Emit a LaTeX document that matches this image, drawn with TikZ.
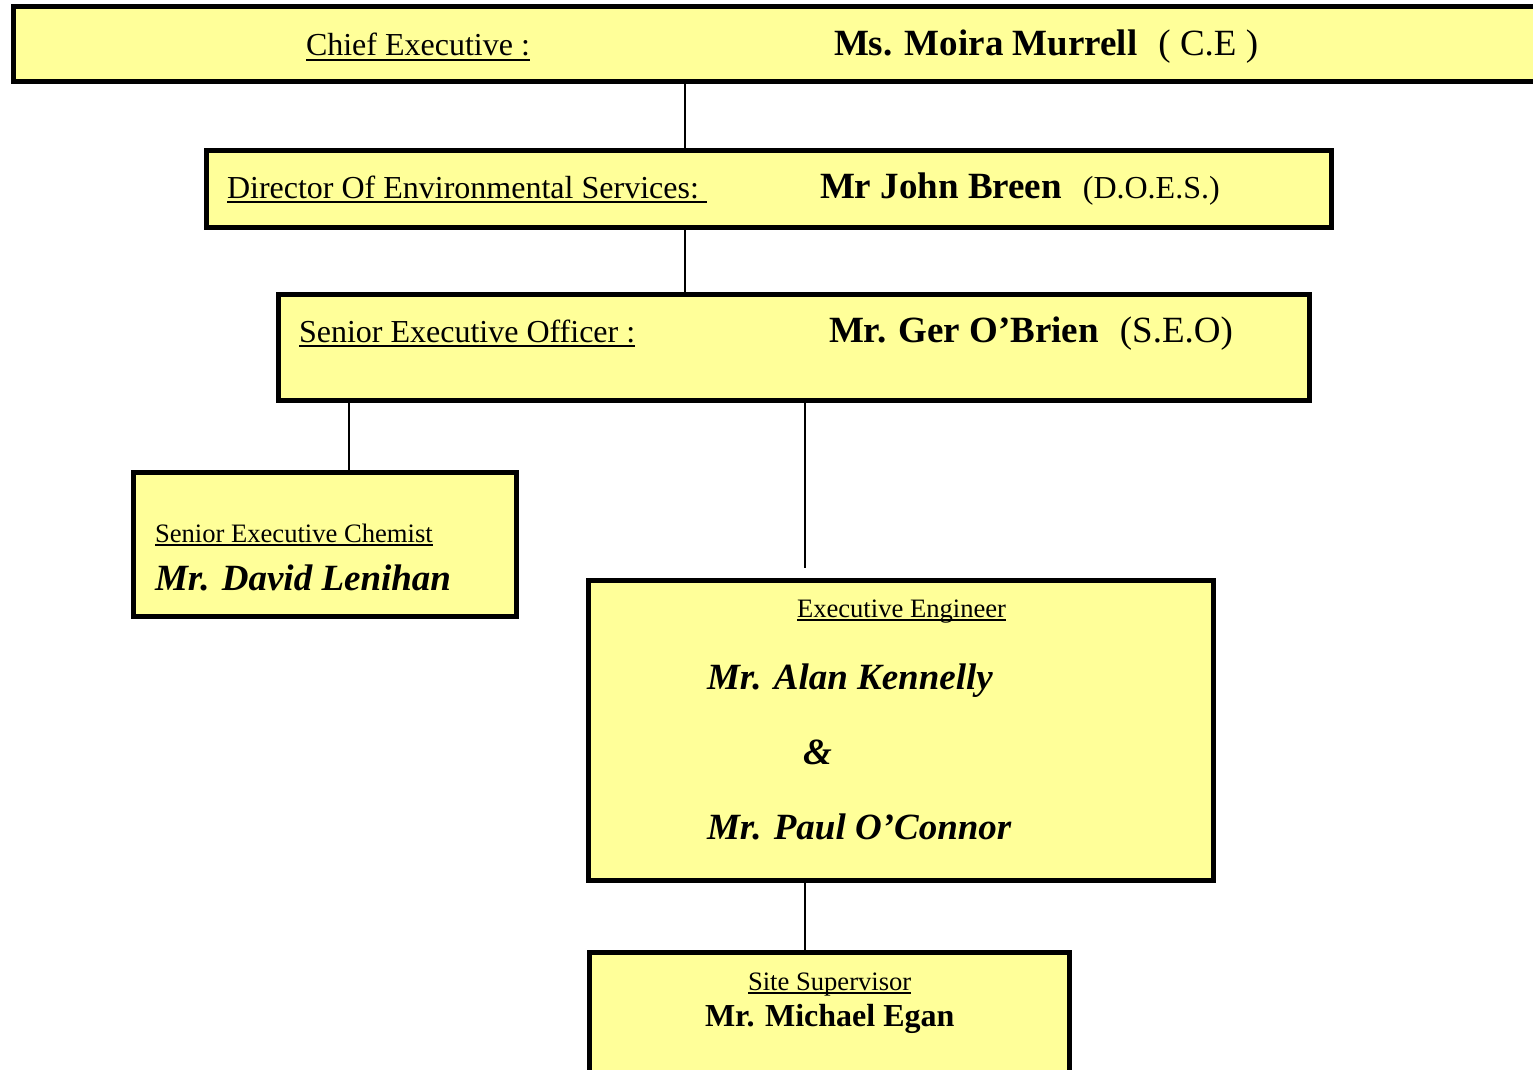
\documentclass[tikz,border=0pt]{standalone}
\usepackage{fontspec}
\setmainfont{Liberation Serif}
\definecolor{boxfill}{HTML}{FFFF99}
\newcommand\ulx[1]{\setbox0\hbox{#1}\rlap{\rule[-0.15em]{\wd0}{0.065em}}\box0}
\newcommand\fsz[1]{\fontsize{#1}{#1}\selectfont}
\tikzset{
  orgbox/.style={draw=black, fill=boxfill, line width=5pt, rectangle, inner sep=0pt},
  txt/.style={anchor=base west, inner sep=0pt, outer sep=0pt},
  link/.style={draw=black, line width=1.4pt}
}
\begin{document}
\begin{tikzpicture}[x=1pt,y=-1pt]
\clip (0,0) rectangle (1533,1070);
\fill[white] (0,0) rectangle (1533,1070);
% junction x positions
\coordinate (xa) at (685,0);
\coordinate (xb) at (349,0);
\coordinate (xc) at (805,0);
% boxes
\node[orgbox, minimum width=1532pt, minimum height=75pt] (ce) at (779,44) {};
\node[orgbox, minimum width=1125pt, minimum height=77pt] (dir) at (768.5,189) {};
\node[orgbox, minimum width=1031pt, minimum height=106pt] (seo) at (793.5,347.5) {};
\node[orgbox, minimum width=383pt, minimum height=144pt] (chem) at (325,544.5) {};
\node[orgbox, minimum width=624.5pt, minimum height=300pt] (exe) at (900.75,730.5) {};
\node[orgbox, minimum width=480pt, minimum height=147.5pt] (site) at (829.5,1026.25) {};
\coordinate (exeTop) at (805,568);
% connectors
\draw[link] (ce.south -| xa) -- (dir.north -| xa);
\draw[link] (dir.south -| xa) -- (seo.north -| xa);
\draw[link] (seo.south -| xb) -- (chem.north -| xb);
\draw[link] (seo.south -| xc) -- (exeTop);
\draw[link] (exe.south -| xc) -- (site.north -| xc);
% texts
\node[txt] (ceL) at (306,56) {\fsz{32}\ulx{Chief Executive :}};
\node[txt] (ceN) at (834,56) {\fsz{37}\textbf{Ms. Moira Murrell}\hspace{21pt}( C.E )};
\node[txt] (dirL) at (227,198) {\fsz{32}\ulx{Director Of Environmental Services:\ }};
\node[txt] (dirN) at (820,198) {\fsz{37}\textbf{Mr John Breen}\hspace{21pt}\fsz{32}(D.O.E.S.)};
\node[txt] (seoL) at (299,342) {\fsz{32}\ulx{Senior Executive Officer :}};
\node[txt] (seoN) at (829,342) {\fsz{37}\textbf{Mr. Ger O’Brien}\hspace{21pt}(S.E.O)};
\node[txt] (chemL) at (155,542) {\fsz{26.6}\ulx{Senior Executive Chemist}};
\node[txt] (chemN) at (155,590) {\fsz{37}\textbf{\itshape Mr. David Lenihan}};
\node[txt] (exeL) at (797,617) {\fsz{26.6}\ulx{Executive Engineer}};
\node[txt] (exeN1) at (707,689) {\fsz{37}\textbf{\itshape Mr. Alan Kennelly}};
\node[txt] (exeAmp) at (803,764) {\fsz{37}\textbf{\itshape \&}};
\node[txt] (exeN2) at (707,839) {\fsz{37}\textbf{\itshape Mr. Paul O’Connor}};
\node[txt] (siteL) at (748,990) {\fsz{26.6}\ulx{Site Supervisor}};
\node[txt] (siteN) at (705,1026) {\fsz{32}\textbf{Mr. Michael Egan}};
\end{tikzpicture}
\end{document}
